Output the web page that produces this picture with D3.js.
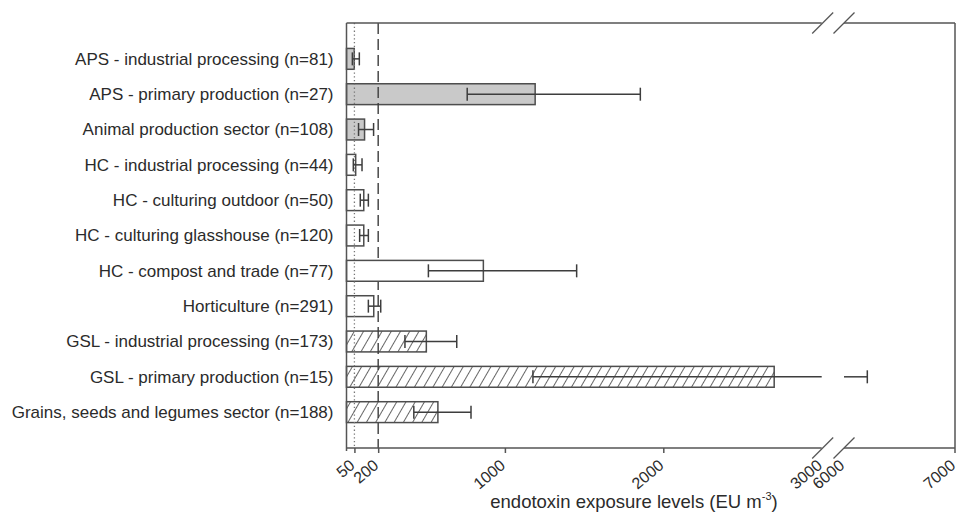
<!DOCTYPE html>
<html>
<head>
<meta charset="utf-8">
<script src="https://cdn.jsdelivr.net/npm/d3@7"></script>
<style>
    body { margin: 0; background: #fff; }
    svg { display: block; font-family: "Liberation Sans", Arial, sans-serif; }
</style>
</head>
<body>
<div id="chart"></div>
<script>
// Categories, top to bottom
var categories = [
    "APS - industrial processing (n=81)",
    "APS - primary production (n=27)",
    "Animal production sector (n=108)",
    "HC - industrial processing (n=44)",
    "HC - culturing outdoor (n=50)",
    "HC - culturing glasshouse (n=120)",
    "HC - compost and trade (n=77)",
    "Horticulture (n=291)",
    "GSL - industrial processing (n=173)",
    "GSL - primary production (n=15)",
    "Grains, seeds and legumes sector (n=188)"
];

// Exposure level (bar) and lower / upper error bound, EU m-3
var levels = [49, 1191, 114, 58, 109, 109, 864, 172, 504, 2700, 577];
var lowers = [37, 762, 76, 43, 87, 83, 517, 138, 369, 1177, 425];
var uppers = [81, 1855, 171, 98, 138, 138, 1453, 216, 696, 6210, 786];

// Sector of each row: grey = animal production, white = horticulture, hatch = grains
var sectors = ["grey", "grey", "grey", "white", "white", "white", "white", "white", "hatch", "hatch", "hatch"];

var tickValues = [50, 200, 1000, 2000, 3000, 6000, 7000];

function main() {
    var width = 957, height = 519;
    var left = 346.5, right = 955, top = 23, bottom = 448;
    var breakA = 821.7, breakB = 844; // x position of 3000 and 6000, the axis is cut between

    var svg = d3.select("#chart").append("svg")
        .attr("width", width)
        .attr("height", height);

    // Hatch pattern for the grains sector
    svg.append("defs").append("pattern")
        .attr("id", "hatch")
        .attr("patternUnits", "userSpaceOnUse")
        .attr("width", 8)
        .attr("height", 10)
        .attr("patternTransform", "rotate(30)")
        .append("line")
        .attr("x1", 0).attr("y1", 0)
        .attr("x2", 0).attr("y2", 10)
        .attr("stroke", "#333")
        .attr("stroke-width", 1.5);

    // Broken scale: 0..3000 then 6000..7000
    var x = d3.scaleLinear()
        .domain([0, 3000, 6000, 7000])
        .range([left, breakA, breakB, right]);

    var y = d3.scaleBand()
        .domain(categories)
        .range([top, bottom])
        .paddingInner(0.41)
        .paddingOuter(0.72);

    var rows = categories.map(function (c, i) {
        return { name: c, level: levels[i], lo: lowers[i], hi: uppers[i], sector: sectors[i] };
    });

    var fills = { grey: "#c9c9c9", white: "#fff", hatch: "url(#hatch)" };

    // Grey and hatched bars sit under the dashed line
    svg.append("g").selectAll("rect")
        .data(rows.filter(function (d) { return d.sector != "white"; }))
        .enter().append("rect")
        .attr("x", x(0))
        .attr("y", function (d) { return y(d.name); })
        .attr("width", function (d) { return x(d.level) - x(0); })
        .attr("height", y.bandwidth())
        .attr("fill", function (d) { return fills[d.sector]; })
        .attr("stroke", "#4d4d4d")
        .attr("stroke-width", 1.5);

    // Dashed line at 200
    svg.append("line")
        .attr("x1", x(200)).attr("x2", x(200))
        .attr("y1", top).attr("y2", bottom)
        .attr("stroke", "#3d3d3d")
        .attr("stroke-width", 1.4)
        .attr("stroke-dasharray", "11,5");

    // White bars cover the dashed line
    svg.append("g").selectAll("rect")
        .data(rows.filter(function (d) { return d.sector == "white"; }))
        .enter().append("rect")
        .attr("x", x(0))
        .attr("y", function (d) { return y(d.name); })
        .attr("width", function (d) { return x(d.level) - x(0); })
        .attr("height", y.bandwidth())
        .attr("fill", "#fff")
        .attr("stroke", "#4d4d4d")
        .attr("stroke-width", 1.5);

    // Dotted line at 50
    svg.append("line")
        .attr("x1", x(50)).attr("x2", x(50))
        .attr("y1", top).attr("y2", bottom)
        .attr("stroke", "#777")
        .attr("stroke-width", 1.3)
        .attr("stroke-dasharray", "1.3,2.5");

    // Error bars, split over the axis break when needed
    var err = svg.append("g")
        .attr("stroke", "#3d3d3d")
        .attr("stroke-width", 1.5)
        .attr("fill", "none");

    rows.forEach(function (d) {
        var cy = y(d.name) + y.bandwidth() / 2;
        var capH = 6.5;
        if (d.hi > 3000) {
            err.append("line").attr("x1", x(d.lo)).attr("x2", x(3000)).attr("y1", cy).attr("y2", cy);
            err.append("line").attr("x1", x(6000)).attr("x2", x(d.hi)).attr("y1", cy).attr("y2", cy);
        } else {
            err.append("line").attr("x1", x(d.lo)).attr("x2", x(d.hi)).attr("y1", cy).attr("y2", cy);
        }
        [d.lo, d.hi].forEach(function (v) {
            err.append("line")
                .attr("x1", x(v)).attr("x2", x(v))
                .attr("y1", cy - capH).attr("y2", cy + capH);
        });
    });

    // Plot frame, with gaps at the break
    var frame = svg.append("g")
        .attr("stroke", "#555")
        .attr("stroke-width", 1.5)
        .attr("fill", "none");

    frame.append("line").attr("x1", left).attr("x2", left).attr("y1", top).attr("y2", bottom + 3);
    frame.append("line").attr("x1", right).attr("x2", right).attr("y1", top).attr("y2", bottom + 5);
    [top, bottom].forEach(function (yy) {
        frame.append("line").attr("x1", left).attr("x2", breakA).attr("y1", yy).attr("y2", yy);
        frame.append("line").attr("x1", breakB).attr("x2", right).attr("y1", yy).attr("y2", yy);
        // break slashes
        [breakA + 1, breakB].forEach(function (bx) {
            frame.append("line")
                .attr("x1", bx - 10.5).attr("y1", yy + 10.5)
                .attr("x2", bx + 10.5).attr("y2", yy - 10.5)
                .attr("stroke-width", 1.2);
        });
    });

    // X axis ticks and rotated labels
    var xAxis = d3.axisBottom(x)
        .tickValues(tickValues)
        .tickSize(5)
        .tickFormat(d3.format("d"));

    var gx = svg.append("g")
        .attr("transform", "translate(0," + bottom + ")")
        .call(xAxis);

    gx.select(".domain").remove();
    gx.selectAll(".tick line")
        .attr("stroke", "#555")
        .attr("stroke-width", 1.5)
        .attr("y2", function (d) { return (d == 3000 || d == 6000 || d == 7000) ? 0 : 5; });
    gx.selectAll(".tick text")
        .attr("fill", "#2b2b2b")
        .attr("font-size", 16)
        .attr("text-anchor", "end")
        .attr("x", 0)
        .attr("y", 0)
        .attr("dy", 0)
        .attr("transform", "translate(1,19) rotate(-40)");

    // Category labels
    svg.append("g").selectAll("text")
        .data(categories)
        .enter().append("text")
        .attr("x", left - 13)
        .attr("y", function (d) { return y(d) + y.bandwidth() / 2; })
        .attr("dy", "0.35em")
        .attr("text-anchor", "end")
        .attr("font-size", 17)
        .attr("fill", "#2b2b2b")
        .text(function (d) { return d; });

    // Axis title
    var title = svg.append("text")
        .attr("x", 634)
        .attr("y", 508)
        .attr("text-anchor", "middle")
        .attr("font-size", 18.5)
        .attr("fill", "#2b2b2b");
    title.append("tspan").text("endotoxin exposure levels (EU m");
    title.append("tspan").attr("font-size", 11).attr("dy", -8).text("-3");
    title.append("tspan").attr("dy", 8).text(")");
}

main();
</script>
</body>
</html>
